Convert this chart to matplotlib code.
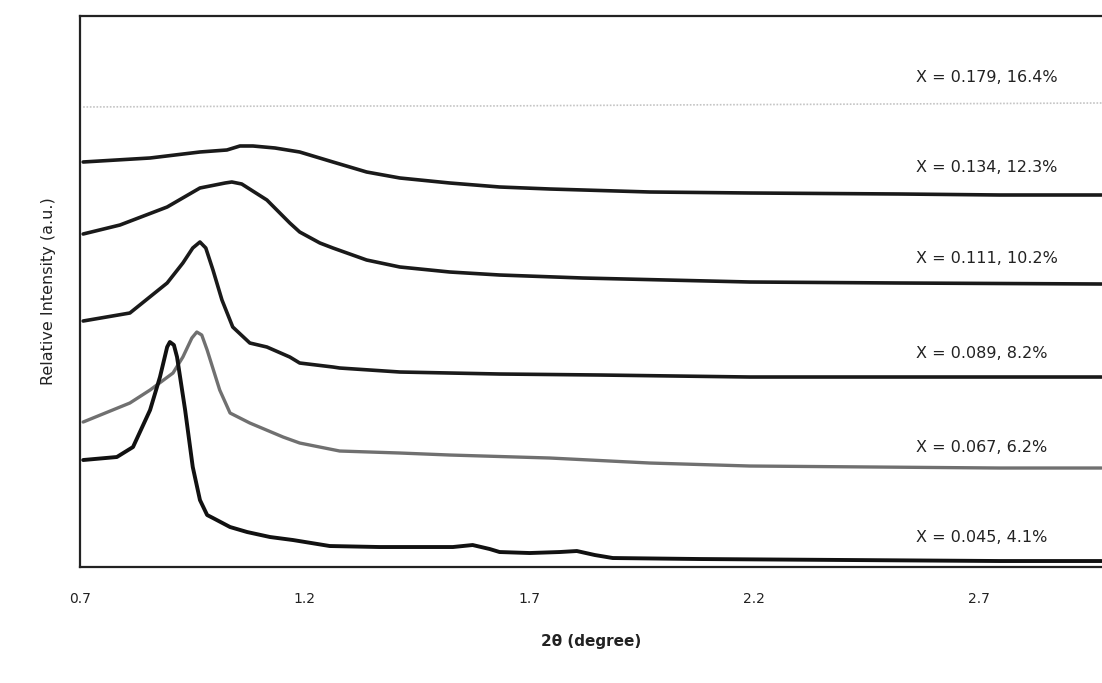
import matplotlib
matplotlib.use("Agg")
from matplotlib import pyplot as plt

# 2-theta positions (degree) and relative intensity (a.u., stacked offsets)
tt_179 = [0.707, 1.2, 1.6, 2.0, 2.5, 2.974]
in_179 = [460, 461, 461, 462, 463, 464]

tt_134 = [0.707, 0.856, 0.967, 1.027, 1.056, 1.085, 1.134, 1.189, 1.263, 1.338,
          1.412, 1.523, 1.634, 1.746, 1.968, 2.191, 2.524, 2.747, 2.974]
in_134 = [405, 409, 415, 417, 421, 421, 419, 415, 405, 395,
          389, 384, 380, 378, 375, 374, 373, 372, 372]

tt_111 = [0.707, 0.789, 0.894, 0.967, 1.023, 1.038, 1.060, 1.116, 1.167, 1.189,
          1.234, 1.263, 1.338, 1.412, 1.523, 1.634, 1.819, 2.191, 2.524, 2.974]
in_111 = [333, 342, 360, 379, 384, 385, 383, 367, 344, 335,
          324, 319, 307, 300, 295, 292, 289, 285, 284, 283]

tt_089 = [0.707, 0.811, 0.894, 0.929, 0.951, 0.967, 0.980, 0.996, 1.016, 1.040,
          1.078, 1.116, 1.167, 1.189, 1.263, 1.278, 1.412, 1.634, 1.857, 2.191, 2.974]
in_089 = [246, 254, 284, 304, 319, 325, 319, 297, 267, 240,
          224, 220, 210, 204, 200, 199, 195, 193, 192, 190, 190]

tt_067 = [0.707, 0.811, 0.856, 0.907, 0.929, 0.949, 0.960, 0.971, 0.983, 1.011,
          1.034, 1.078, 1.152, 1.189, 1.278, 1.412, 1.523, 1.746, 1.968,
          2.191, 2.747, 2.974]
in_067 = [145, 164, 177, 194, 210, 229, 235, 232, 217, 177,
          154, 144, 130, 124, 116, 114, 112, 109, 104,
          101, 99, 99]

tt_045 = [0.707, 0.782, 0.818, 0.856, 0.878, 0.894, 0.900, 0.909, 0.916, 0.934,
          0.951, 0.967, 0.983, 0.996, 1.034, 1.072, 1.123, 1.174, 1.256, 1.367,
          1.441, 1.530, 1.574, 1.612, 1.634, 1.701, 1.768, 1.806, 1.846, 1.886,
          2.079, 2.413, 2.747, 2.974]
in_045 = [107, 110, 120, 157, 190, 220, 225, 222, 210, 157,
          100, 67, 52, 49, 40, 35, 30, 27, 21, 20,
          20, 20, 22, 18, 15, 14, 15, 16, 12, 9,
          8, 7, 6, 6]

labels = ["X = 0.179, 16.4%", "X = 0.134, 12.3%", "X = 0.111, 10.2%",
          "X = 0.089, 8.2%", "X = 0.067, 6.2%", "X = 0.045, 4.1%"]
label_y = [489, 399, 309, 214, 120, 30]
label_x = 2.562

xticks = [0.7, 1.2, 1.7, 2.2, 2.7]

fig = plt.figure(figsize=(11.02, 6.83), dpi=100)
ax = fig.add_axes([0.0726, 0.1698, 0.9274, 0.8068])

style = dict(solid_joinstyle="round", solid_capstyle="round")
ax.plot(tt_179, in_179, color="#c4c4c4", lw=1.2, ls=(0, (1, 1)))
ax.plot(tt_134, in_134, color="#1a1a1a", lw=2.6, **style)
ax.plot(tt_111, in_111, color="#1a1a1a", lw=2.6, **style)
ax.plot(tt_089, in_089, color="#1a1a1a", lw=2.6, **style)
ax.plot(tt_067, in_067, color="#707070", lw=2.4, **style)
ax.plot(tt_045, in_045, color="#111111", lw=2.8, **style)

for txt, yy in zip(labels, label_y):
    ax.text(label_x, yy, txt, fontsize=11.5, color="#222222", ha="left", va="center")

ax.set_xlim(0.7, 2.975)
ax.set_ylim(0, 551)
ax.set_xticks(xticks)
ax.set_xticklabels([str(t) for t in xticks])
ax.set_yticks([])
ax.tick_params(axis="x", length=0, pad=18, labelsize=10, labelcolor="#222222")

for side in ["left", "bottom", "top"]:
    ax.spines[side].set_linewidth(1.6)
    ax.spines[side].set_color("#222222")
ax.spines["right"].set_visible(False)

ax.set_xlabel("2θ (degree)", fontsize=11, fontweight="bold", labelpad=20, color="#222222")
ax.set_ylabel("Relative Intensity (a.u.)", fontsize=11.5, labelpad=17, color="#222222")

fig.savefig("out.png", dpi=100)
